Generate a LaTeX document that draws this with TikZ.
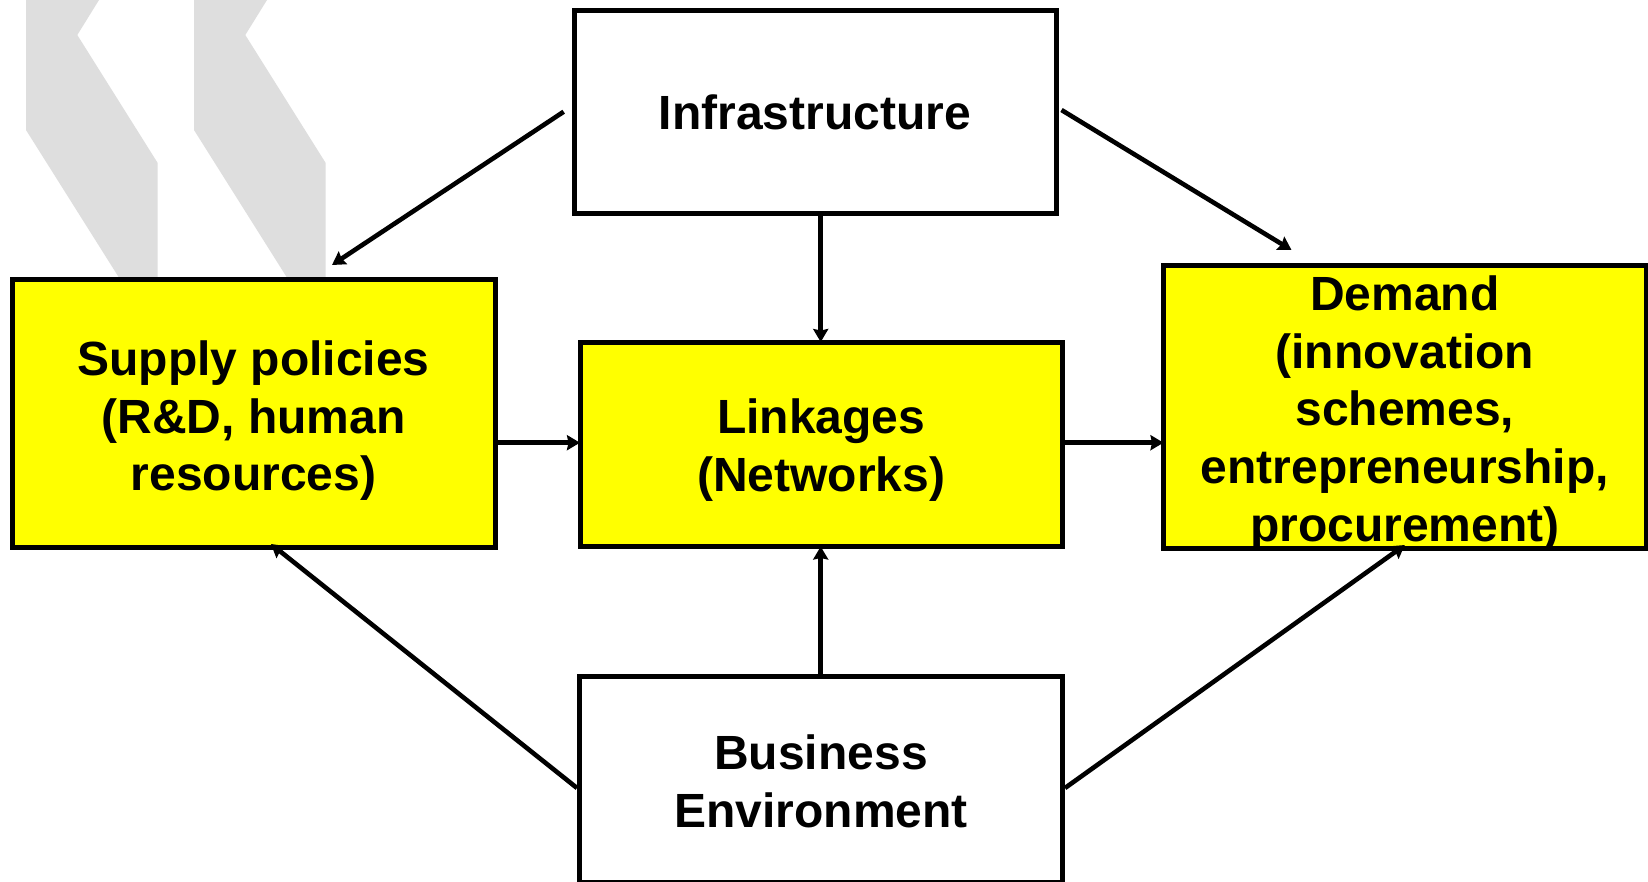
\documentclass[tikz,border=0pt]{standalone}
\usepackage{fontspec}
\setmainfont{Liberation Sans}
\usetikzlibrary{arrows.meta}
\definecolor{boxyellow}{HTML}{FFFF00}
\definecolor{wmgray}{HTML}{DEDEDE}
\tikzset{
  x=1pt,y=-1pt,
  box/.style={draw=black,line width=5pt,rectangle,inner sep=0pt,outer sep=0pt,align=center,
    font=\fontsize{48}{57.7}\selectfont\bfseries,anchor=center},
  whitebox/.style={box,fill=white},
  yellowbox/.style={box,fill=boxyellow},
  conn/.style={draw=black,line width=4.6pt,-{Stealth[length=13pt,width=15pt,inset=1.5pt]}},
  wm/.style={fill=wmgray,draw=none}
}
\newcommand{\boxat}[8]{% style, name, x1,y1,x2,y2, text shift, text
  \node[#1,minimum width=#5pt-#3pt,minimum height=#6pt-#4pt] (#2) at ({(#3+#5)/2},{(#4+#6)/2})
    {\raisebox{-#7pt}[\dimexpr\height-10pt\relax][\dimexpr\depth-10pt\relax]{\begin{tabular}{@{}c@{}}#8\end{tabular}}};}
\begin{document}
\begin{tikzpicture}
\useasboundingbox (0,0) rectangle (1648,881);
\fill[white] (0,0) rectangle (1648,881);
% watermark quotes
\fill[wm] (26,0) -- (99,0) -- (77.3,35) -- (157.7,163) -- (157.7,290) -- (118.6,290) -- (118.6,277) -- (26,130) -- cycle;
\fill[wm] (194,0) -- (267,0) -- (245.3,35) -- (325.7,163) -- (325.7,290) -- (286.6,290) -- (286.6,277) -- (194,130) -- cycle;
% boxes
\boxat{whitebox}{infra}{574}{10}{1056}{213.5}{6.3}{Infrastructure}
\boxat{yellowbox}{supply}{12.2}{279.5}{495}{547.5}{8}{Supply policies\\(R\&D, human\\resources)}
\boxat{yellowbox}{link}{580}{342}{1062.5}{546.5}{7}{Linkages\\(Networks)}
\boxat{yellowbox}{demand}{1163.5}{265}{1646}{548.5}{7.5}{Demand\\(innovation\\schemes,\\entrepreneurship,\\procurement)}
\boxat{whitebox}{biz}{579.5}{676.5}{1062.5}{882}{8}{Business\\Environment}
% free ends
\coordinate (a1s) at (563.7,111.7);
\coordinate (a1e) at (332,265);
\coordinate (a2s) at (1061.5,110);
\coordinate (a2e) at (1291.5,250);
\coordinate (a3s) at (577,788);
\coordinate (a3e) at (271,544);
\coordinate (a4s) at (1065,788);
\coordinate (a4e) at (1404.8,545);
\coordinate (vx) at (820.7,442.7);
% connectors
\draw[conn] (a1s) -- (a1e);
\draw[conn] (a2s) -- (a2e);
\draw[conn] (a3s) -- (a3e);
\draw[conn] (a4s) -- (a4e);
\draw[conn] (infra.south -| vx) -- (link.north -| vx);
\draw[conn] (biz.north -| vx) -- (link.south -| vx);
\draw[conn] (supply.east |- vx) -- (link.west |- vx);
\draw[conn] (link.east |- vx) -- (demand.west |- vx);
\end{tikzpicture}
\end{document}
